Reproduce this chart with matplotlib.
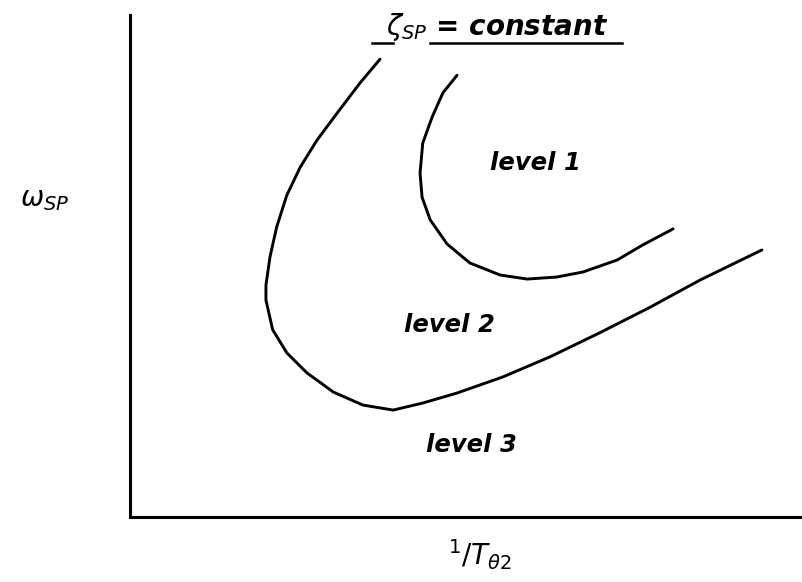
import matplotlib
matplotlib.use("Agg")
import matplotlib.pyplot as plt

# Sketch data (arbitrary units 0..100)
outer_x = [37.15, 34.2, 30.8, 27.8, 25.3, 23.3, 21.8, 20.8, 20.2, 20.2, 21.2, 23.3, 26.3, 30.2, 34.6, 39.1,
           43.5, 48.6, 55.4, 62.4, 69.8, 77.3, 84.7, 93.9]
outer_y = [91.2, 86.5, 80.5, 75.1, 69.7, 64.1, 57.8, 51.8, 46.2, 43.2, 37.3, 32.7, 28.7, 24.9, 22.3, 21.3,
           22.7, 24.7, 27.9, 31.9, 36.7, 41.8, 47.2, 53.2]
inner_x = [48.6, 46.5, 44.9, 43.5, 43.1, 43.4, 44.6, 47.1, 50.5, 55.0, 59.0, 63.4, 67.3, 72.4, 76.2, 80.7]
inner_y = [88.0, 84.5, 79.7, 74.5, 68.5, 63.7, 59.2, 54.4, 50.6, 48.2, 47.4, 47.8, 48.8, 51.2, 54.2, 57.4]
region_labels = ["level 1", "level 2", "level 3"]
region_x = [60.2, 47.5, 50.7]
region_y = [70.5, 38.2, 14.3]
title_text = r"$\zeta_{SP}$ = constant"
xlabel_text = r"$^{1}/T_{\theta 2}$"
ylabel_text = r"$\omega_{SP}$"

fig = plt.figure(figsize=(8.03, 5.82), dpi=100)
ax = fig.add_axes([130/803, 65/582, 673/803, 502/582])
ax.set_xlim(0, 100)
ax.set_ylim(0, 100)

ax.plot(outer_x, outer_y, color="black", lw=2.1, solid_capstyle="round", solid_joinstyle="round")
ax.plot(inner_x, inner_y, color="black", lw=2.1, solid_capstyle="round", solid_joinstyle="round")

for t, x, y in zip(region_labels, region_x, region_y):
    ax.text(x, y, t, fontsize=17.5, fontweight="bold", style="italic", ha="center", va="center")

ax.text(54.5, 97.6, title_text, fontsize=20, fontweight="bold", style="italic", ha="center", va="center")
ax.plot([36.0, 39.1], [94.4, 94.4], color="black", lw=1.8, clip_on=False)
ax.plot([44.6, 73.1], [94.4, 94.4], color="black", lw=1.8, clip_on=False)

for s in ["top", "right"]:
    ax.spines[s].set_visible(False)
for s in ["left", "bottom"]:
    ax.spines[s].set_linewidth(2.2)
ax.set_xticks([])
ax.set_yticks([])

fig.text(480/803, 1 - 555/582, xlabel_text, fontsize=20, ha="center", va="center")
fig.text(45/803, 1 - 199/582, ylabel_text, fontsize=20, ha="center", va="center")

fig.savefig("out.png", dpi=100, facecolor="white")
